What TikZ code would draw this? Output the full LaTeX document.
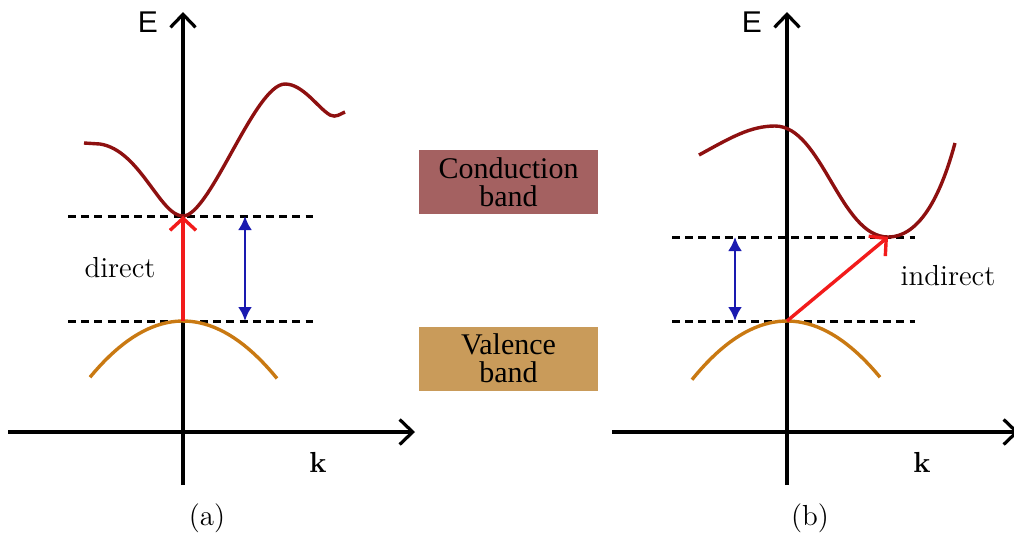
\documentclass[tikz,border=0pt]{standalone}
\usepackage{fontspec}
\usepackage{tikz}
\usetikzlibrary{arrows.meta,positioning}
\newfontfamily\boxserif{Liberation Serif}
\newfontfamily\axissans{Liberation Sans}
\definecolor{BandRed}{HTML}{8E1010}
\definecolor{BandOrange}{HTML}{C97912}
\definecolor{JumpRed}{HTML}{F21B1B}
\definecolor{GapBlue}{HTML}{1A1AB0}
\definecolor{ConductionFill}{HTML}{A46161}
\definecolor{ValenceFill}{HTML}{C99B5A}

\begin{document}
\begin{tikzpicture}[x=0.5pt,y=-0.5pt,
  axis/.style={line width=1.6pt,-{Straight Barb[length=6.5pt,width=12.5pt,line width=1.6pt]}},
  level/.style={line width=1.5pt,dash pattern=on 4pt off 2.6pt},
  cband/.style={line width=1.7pt,BandRed},
  vband/.style={line width=1.7pt,BandOrange},
  jump/.style={line width=1.7pt,JumpRed,-{Straight Barb[length=6pt,width=13pt,line width=1.7pt]}},
  gap/.style={line width=1.4pt,GapBlue,{Latex[length=7pt,width=7pt]}-{Latex[length=7pt,width=7pt]}},
  axislabel/.style={font=\axissans\fontsize{15}{16}\selectfont,inner sep=0pt},
  klabel/.style={font=\fontsize{14.5}{16}\selectfont\bfseries,inner sep=0pt},
  plain/.style={font=\fontsize{14.5}{16}\selectfont,inner sep=0pt},
  bandbox/.style={minimum width=89.5pt,minimum height=32pt,inner sep=0pt,
    align=center,font=\boxserif\fontsize{15}{14}\selectfont}]
  \useasboundingbox (0,0) rectangle (1014,538);

  % panel (a): direct gap
  \coordinate (a-left) at (8,432);
  \coordinate (a-right) at (415,432);
  \coordinate (a-bot) at (183,485);
  \coordinate (a-top) at (183,12);
  \coordinate (a-cmin) at (183,216);
  \coordinate (a-vmax) at (183,321);
  \coordinate (a-gaptop) at (245,216);
  \coordinate (a-gapbot) at (245,321);
  \draw[axis] (a-left) -- (a-right);
  \draw[axis] (a-bot) -- (a-top);
  \draw[level] (68,216) -- (313,216);
  \draw[level] (68,321) -- (313,321);
  \draw[cband] (84,143) -- (100,144)
    .. controls (140,150) and (160,216) .. (a-cmin)
    .. controls (210,216) and (255,84) .. (285,84)
    .. controls (303,84) and (318,108) .. (330,115)
    .. controls (336,118) and (340,114) .. (345,112);
  \draw[vband] plot[domain=-93:94,samples=40] ({\x+183},{321+0.0065*\x*\x});
  \draw[jump] (a-vmax) -- (a-cmin);
  \draw[gap] (a-gaptop) -- (a-gapbot);
  \node[axislabel] (a-E) at (148,22) {E};
  \node[klabel] (a-k) at (318,462) {k};
  \node[plain] (a-direct) at (120,268) {direct};
  \node[plain] (a-cap) at (207,518) {(a)};

  % legend boxes
  \node[bandbox,fill=ConductionFill] (cbox) at (508.5,182) {Conduction\\band};
  \node[bandbox,fill=ValenceFill] (vbox) at (508.5,358.5) {Valence\\band};

  % panel (b): indirect gap
  \coordinate (b-left) at (612,432);
  \coordinate (b-right) at (1019,432);
  \coordinate (b-bot) at (787,485);
  \coordinate (b-top) at (787,12);
  \coordinate (b-cmin) at (888,237);
  \coordinate (b-vmax) at (787,321);
  \coordinate (b-gaptop) at (735,237);
  \coordinate (b-gapbot) at (735,321);
  \draw[axis] (b-left) -- (b-right);
  \draw[axis] (b-bot) -- (b-top);
  \draw[level] (672,237) -- (915,237);
  \draw[level] (672,321) -- (915,321);
  \draw[cband] (699,155)
    .. controls (730,138) and (750,126) .. (775,126)
    .. controls (822,126) and (840,237) .. (b-cmin)
    .. controls (925,237) and (945,180) .. (955,143);
  \draw[vband] plot[domain=-95:93,samples=40] ({\x+787},{321+0.0065*\x*\x});
  \draw[jump] (b-vmax) -- (b-cmin);
  \draw[gap] (b-gaptop) -- (b-gapbot);
  \node[axislabel] (b-E) at (752,22) {E};
  \node[klabel] (b-k) at (922,462) {k};
  \node[plain] (b-indirect) at (948,276) {indirect};
  \node[plain] (b-cap) at (810,518) {(b)};
\end{tikzpicture}
\end{document}
